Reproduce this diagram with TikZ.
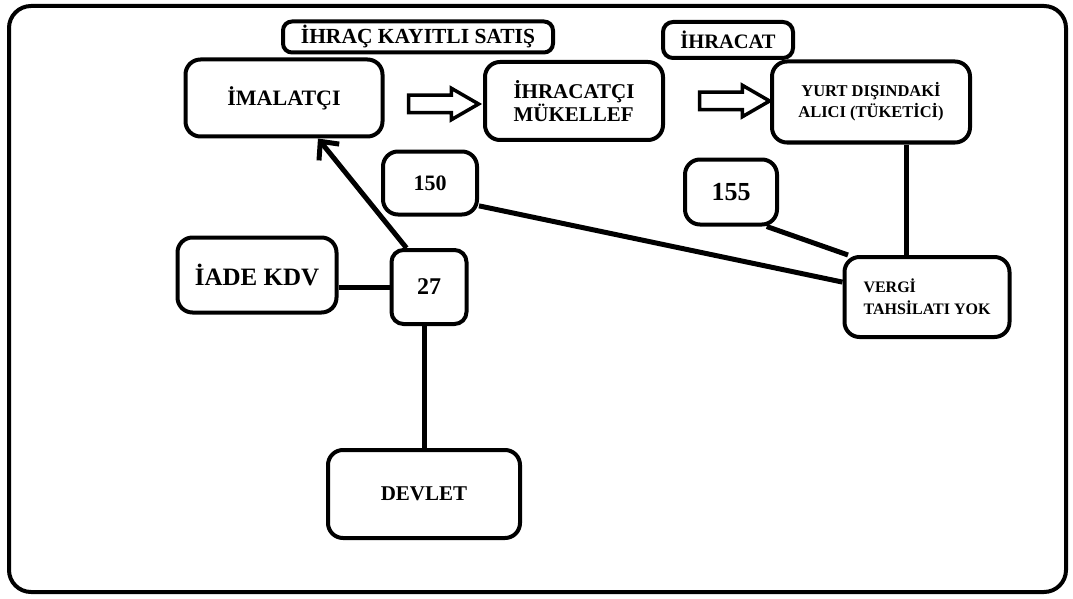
\documentclass[tikz,border=0pt]{standalone}
\usepackage{fontspec}
\setmainfont{Liberation Serif}
\usetikzlibrary{arrows.meta, shapes.arrows}

\begin{document}
\begin{tikzpicture}[x=1pt, y=-1pt,
    bx/.style={draw, line width=4pt, rounded corners=15pt, inner sep=0pt},
    link/.style={line width=5pt},
    fatarrow/.style={single arrow, draw, line width=3.5pt, inner sep=7pt,
      single arrow head extend=7pt, single arrow tip angle=60, minimum height=70pt}]
  \useasboundingbox (0,0) rectangle (1073,599);
  % outer frame
  \draw[line width=4pt, rounded corners=22pt] (9,6) rectangle (1066,592);

  % top row
  \node[bx, rounded corners=9pt, minimum width=270pt, minimum height=31pt, font=\fontsize{21.5}{23}\selectfont\bfseries]
    (ihracKayitli) at (418,37) {İHRAÇ KAYITLI SATIŞ};
  \node[bx, rounded corners=10pt, minimum width=130pt, minimum height=36pt, font=\fontsize{20.5}{22}\selectfont\bfseries]
    (ihracatLbl) at (728,40) {İHRACAT};
  \node[bx, minimum width=197pt, minimum height=77pt, font=\fontsize{22}{23}\selectfont\bfseries]
    (imalatci) at (284,98) {İMALATÇI};
  \node[bx, minimum width=178pt, minimum height=78pt, align=left, font=\fontsize{21}{23}\selectfont\bfseries]
    (ihracatci) at (574,101) {İHRACATÇI\\MÜKELLEF};
  \node[bx, minimum width=198pt, minimum height=81pt, align=center, font=\fontsize{16.5}{21}\selectfont\bfseries]
    (yurt) at (871,102) {YURT DIŞINDAKİ\\ALICI (TÜKETİCİ)};
  \node[fatarrow] (arrA) at (436,104) {};
  \node[fatarrow] (arrB) at (727,101) {};

  % amounts
  \node[bx, minimum width=94pt, minimum height=63pt, font=\fontsize{22}{24}\selectfont\bfseries]
    (n150) at (430,183) {150};
  \node[bx, minimum width=92pt, minimum height=65pt, font=\fontsize{26}{28}\selectfont\bfseries]
    (n155) at (731,192) {155};
  \node[bx, minimum width=159pt, minimum height=75pt, font=\fontsize{25}{27}\selectfont\bfseries]
    (iade) at (257,275) {İADE KDV};
  \node[bx, minimum width=75pt, minimum height=74pt, rounded corners=12pt, font=\fontsize{24}{26}\selectfont\bfseries]
    (n27) at (429,287) {27};
  \node[bx, minimum width=165pt, minimum height=80pt, align=left, font=\fontsize{16}{22}\selectfont\bfseries]
    (vergi) at (927,297) {VERGİ\\TAHSİLATI YOK};
  \node[bx, minimum width=192pt, minimum height=88pt, font=\fontsize{21}{23}\selectfont\bfseries]
    (devlet) at (424,494) {DEVLET};

  % connectors
  \draw[link, -{Straight Barb[length=14pt, width=26pt]}] (n27.120) -- (imalatci.-50);
  \draw[link] (n27.west) -- (n27.west -| iade.east);
  \draw[link] (devlet.north) -- (devlet.north |- n27.south);
  \draw[link] (n150.-25) -- (vergi.170);
  \draw[link] (n155.-44) -- (vergi.152);
  \draw[link] (yurt.-50) -- (yurt.-50 |- vergi.north);
\end{tikzpicture}
\end{document}
